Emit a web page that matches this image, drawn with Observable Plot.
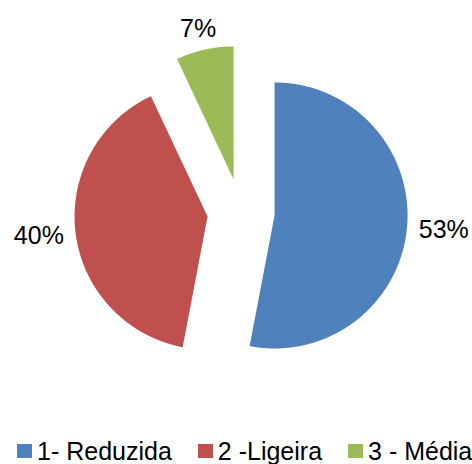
<!DOCTYPE html>
<html>
<head>
<meta charset="utf-8">
<script src="https://cdn.jsdelivr.net/npm/d3@7"></script>
<script src="https://cdn.jsdelivr.net/npm/@observablehq/plot@0.6"></script>
<style>
  html, body { margin: 0; padding: 0; background: #fff; }
  #wrap { width: 472px; height: 464px; overflow: hidden; font-family: "Liberation Sans", Arial, sans-serif; }
  #legend { display: flex; align-items: center; height: 28px; padding-top: 1px; padding-left: 17px; font-size: 25px; line-height: 28px; color: #000; white-space: nowrap; }
  #legend .item { display: flex; align-items: center; margin-right: 26px; }
  #legend .sw { width: 15px; height: 14px; margin-right: 5px; flex: none; }
</style>
</head>
<body>
<div id="wrap"></div>
<script>
// ---- data ----
const categories = ["1- Reduzida", "2 -Ligeira", "3 - Média"];
const values = [53, 40, 7];
const labels = ["53%", "40%", "7%"];
const colors = ["#4F81BD", "#C0504D", "#9BBB59"];

// ---- layout ----
const W = 472, H = 436;
const cx0 = 240.5, cy0 = 211.8, R = 133, explode = 33.7;
const fontSize = 25;
const font = `${fontSize}px "Liberation Sans", Arial, sans-serif`;

const table = categories.map((c, i) => ({cat: c, value: values[i], label: labels[i]}));
const arcs = d3.pie().sort(null).value(d => d.value)(table);

const ctx = document.createElement("canvas").getContext("2d");
ctx.font = font;

const points = [];
const labelData = [];
arcs.forEach(a => {
  const mid = (a.startAngle + a.endAngle) / 2;
  const cx = cx0 + explode * Math.sin(mid);
  const cy = cy0 - explode * Math.cos(mid);
  points.push({cat: a.data.cat, x: cx, y: cy});
  const steps = Math.max(4, Math.ceil((a.endAngle - a.startAngle) / (Math.PI / 360)));
  for (let k = 0; k <= steps; k++) {
    const t = a.startAngle + (a.endAngle - a.startAngle) * k / steps;
    points.push({cat: a.data.cat, x: cx + R * Math.sin(t), y: cy - R * Math.cos(t)});
  }
  points.push({cat: a.data.cat, x: cx, y: cy});
  // label placement just outside the slice edge
  const dx = Math.sin(mid), dy = -Math.cos(mid);
  const hw = ctx.measureText(a.data.label).width / 2, hh = 9, gap = 12;
  labelData.push({
    label: a.data.label,
    x: cx + R * dx + dx * (hw + gap),
    y: cy + R * dy + dy * (hh + gap)
  });
});

const chart = Plot.plot({
  width: W,
  height: H,
  margin: 0,
  x: {domain: [0, W], range: [0, W], axis: null},
  y: {domain: [0, H], range: [0, H], axis: null},
  color: {domain: categories, range: colors},
  style: {fontFamily: '"Liberation Sans", Arial, sans-serif', background: "#fff", overflow: "visible"},
  marks: [
    Plot.line(points, {x: "x", y: "y", z: "cat", fill: "cat", stroke: "none", curve: "linear-closed"}),
    Plot.text(labelData, {x: "x", y: "y", text: "label", fontSize: fontSize, fill: "#000"})
  ]
});

const wrap = document.getElementById("wrap");
wrap.appendChild(chart);

const legend = document.createElement("div");
legend.id = "legend";
categories.forEach((c, i) => {
  const item = document.createElement("div");
  item.className = "item";
  const sw = document.createElement("span");
  sw.className = "sw";
  sw.style.background = chart.scale("color").apply(c);
  const tx = document.createElement("span");
  tx.textContent = c;
  item.appendChild(sw);
  item.appendChild(tx);
  legend.appendChild(item);
});
wrap.appendChild(legend);
</script>
</body>
</html>
